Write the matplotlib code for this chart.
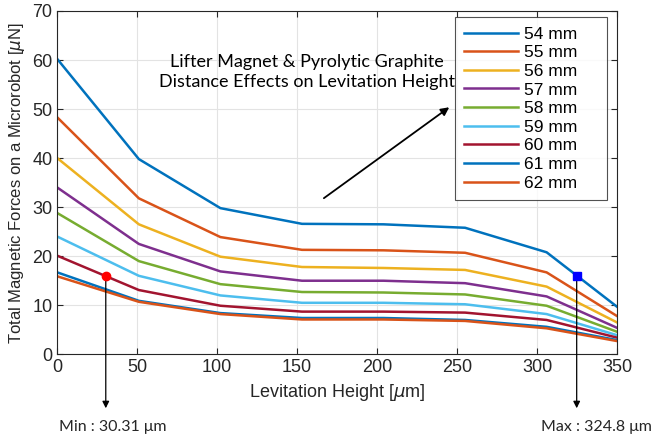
import numpy as np
import matplotlib
matplotlib.use("Agg")
import matplotlib.pyplot as plt

plt.rcParams['font.family'] = ['Liberation Sans', 'DejaVu Sans']

# Levitation height samples [um]
heights = [0, 51, 102, 153, 204, 255, 306, 350]

# Total magnetic force [uN] for each lifter-magnet distance
f54 = [60.2, 39.8, 29.8, 26.6, 26.5, 25.8, 20.8, 9.7]
f55 = [48.3, 31.8, 23.9, 21.3, 21.2, 20.7, 16.7, 7.8]
f56 = [40.0, 26.5, 19.9, 17.8, 17.6, 17.2, 13.8, 6.5]
f57 = [34.0, 22.5, 16.9, 15.0, 15.0, 14.5, 11.8, 5.4]
f58 = [28.8, 19.0, 14.3, 12.7, 12.6, 12.2, 9.9, 4.6]
f59 = [24.0, 16.0, 12.0, 10.5, 10.5, 10.2, 8.2, 3.9]
f60 = [20.1, 13.1, 9.9, 8.7, 8.7, 8.5, 7.0, 3.4]
f61 = [16.7, 10.9, 8.4, 7.4, 7.4, 7.0, 5.6, 2.9]
f62 = [15.9, 10.7, 8.2, 7.1, 7.1, 6.8, 5.3, 2.7]

labels = ["54 mm", "55 mm", "56 mm", "57 mm", "58 mm",
          "59 mm", "60 mm", "61 mm", "62 mm"]
series = [f54, f55, f56, f57, f58, f59, f60, f61, f62]
colors = ["#0072BD", "#D95319", "#EDB120", "#7E2F8E", "#77AC30",
          "#4DBEEE", "#A2142F", "#0072BD", "#D95319"]

min_height = 30.31
max_height = 324.8

fig = plt.figure(figsize=(6.52, 4.36), dpi=100)
ax = fig.add_axes([0.0879, 0.1874, 0.8584, 0.7874])

handles = []
for vals, c in zip(series, colors):
    h, = ax.plot(heights, vals, color=c, lw=1.8)
    handles.append(h)

# Marked operating points
y_min = np.interp(min_height, heights, f60)
y_max = np.interp(max_height, heights, f54)
ax.plot([min_height], [y_min], 'o', color='#FF0000', ms=6, zorder=5)
ax.plot([max_height], [y_max], 's', color='#0000FF', ms=6, zorder=5)

ax.set_xlim(0, 350)
ax.set_ylim(0, 70)
ax.set_xticks(np.arange(0, 351, 50))
ax.set_yticks(np.arange(0, 71, 10))
ax.grid(True, color='#E3E3E3', lw=0.8)
ax.set_axisbelow(True)
ax.tick_params(direction='in', top=True, right=True, labelsize=13,
               colors='#262626', length=4)
for s in ax.spines.values():
    s.set_color('#262626')
    s.set_linewidth(0.8)

ax.set_xlabel("Levitation Height [$\\mu$m]", fontsize=13, color='#262626')
ax.set_ylabel("Total Magnetic Forces on a Microrobot [$\\mu$N]", fontsize=12,
              color='#262626', labelpad=4)

# Legend with extra room on the right of the entries
leg = ax.legend(handles, [lab + "    " for lab in labels],
                loc='upper right', bbox_to_anchor=(0.9816, 0.9825),
                borderaxespad=0, fontsize=12.5,
                frameon=True, fancybox=False, edgecolor='#262626',
                handlelength=3.1, labelspacing=0.2, borderpad=0.55,
                handletextpad=0.35)
leg.get_frame().set_linewidth(0.8)

ax.text(0.446, 0.822, "Lifter Magnet & Pyrolytic Graphite\nDistance Effects on Levitation Height",
        transform=ax.transAxes, ha='center', va='center', fontsize=13,
        family=['Lato', 'DejaVu Sans'], linespacing=1.3)
ax.annotate("", xy=(246.5, 50.7), xytext=(165.3, 31.5),
            arrowprops=dict(arrowstyle='-|>', color='black', lw=1.3,
                            mutation_scale=12))

# Arrows from the marked points down to their labels
ax.annotate("", xy=(min_height, -11.0), xytext=(min_height, y_min),
            arrowprops=dict(arrowstyle='-|>', color='black', lw=0.9,
                            mutation_scale=10, shrinkA=3, shrinkB=0),
            annotation_clip=False)
ax.annotate("", xy=(max_height, -11.0), xytext=(max_height, y_max),
            arrowprops=dict(arrowstyle='-|>', color='black', lw=0.9,
                            mutation_scale=10, shrinkA=3, shrinkB=0),
            annotation_clip=False)
fig.text(113 / 652, 1 - 427 / 436, "Min : 30.31 \u03bcm", ha='center', va='center',
         fontsize=11.5, family=['Lato', 'DejaVu Sans'], color='#262626')
fig.text(596 / 652, 1 - 427 / 436, "Max : 324.8 \u03bcm", ha='center', va='center',
         fontsize=11.5, family=['Lato', 'DejaVu Sans'], color='#262626')

fig.savefig("out.png", dpi=100)
